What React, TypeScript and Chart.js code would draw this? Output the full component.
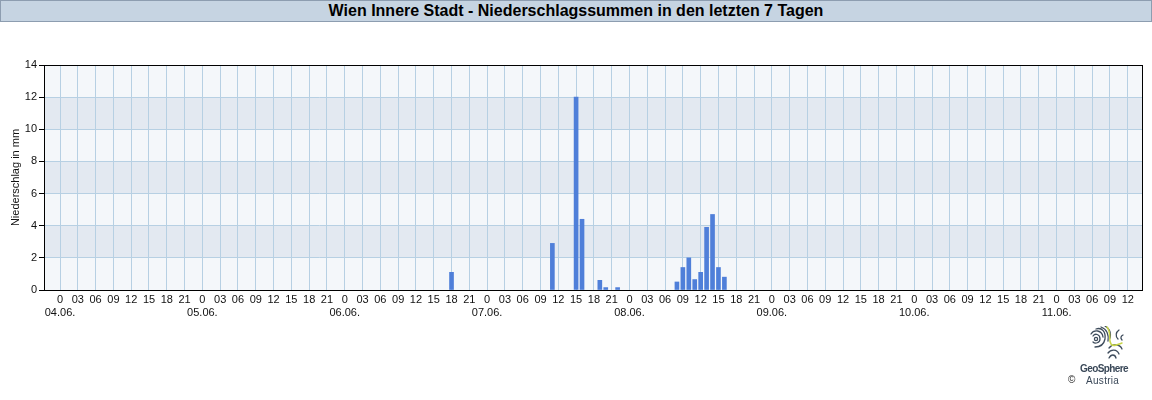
import React, { useEffect, useRef } from "react";
import { Chart, registerables } from "chart.js";

Chart.register(...registerables);

// Day labels (shown under each 0 h tick)
const DAYS = ["04.06.", "05.06.", "06.06.", "07.06.", "08.06.", "09.06.", "10.06.", "11.06."];
// Hour-of-day tick labels every 3 h
const HOUR_LABELS = ["0", "03", "06", "09", "12", "15", "18", "21"];
// Hours since 04.06. 00:00 with precipitation
const RAIN_HOURS = [66, 83, 87, 88, 91, 92, 94, 104, 105, 106, 107, 108, 109, 110, 111, 112];
// Hourly precipitation sums in mm
const RAIN_MM = [1.1, 2.9, 12.0, 4.4, 0.6, 0.15, 0.15, 0.5, 1.4, 2.0, 0.65, 1.1, 3.9, 4.7, 1.4, 0.8];
// Y axis ticks
const Y_TICKS = [0, 2, 4, 6, 8, 10, 12, 14];

const TITLE = "Wien Innere Stadt - Niederschlagssummen in den letzten 7 Tagen";
const Y_TITLE = "Niederschlag in mm";
const FONT = "'Liberation Sans', Arial, Helvetica, sans-serif";

const X_MIN = -2.7;
const X_MAX = 182.4;
const LAST_TICK = 180;

const bandsPlugin = {
  id: "bands",
  beforeDraw(chart: any) {
    const { ctx, chartArea: a, scales } = chart;
    const y = scales.y;
    ctx.save();
    for (let i = 0; i < Y_TICKS.length - 1; i++) {
      const top = y.getPixelForValue(Y_TICKS[i + 1]);
      const bot = y.getPixelForValue(Y_TICKS[i]);
      ctx.fillStyle = i % 2 === 0 ? "#f4f7fa" : "#e3e9f1";
      ctx.fillRect(a.left, top, a.right - a.left, bot - top);
    }
    ctx.restore();
  },
  afterDraw(chart: any) {
    const { ctx, chartArea: a } = chart;
    ctx.save();
    ctx.strokeStyle = "#000";
    ctx.lineWidth = 1;
    ctx.strokeRect(Math.round(a.left) + 0.5, Math.round(a.top) + 0.5, Math.round(a.right - a.left), Math.round(a.bottom - a.top));
    // y axis title
    ctx.translate(16, (a.top + a.bottom) / 2);
    ctx.rotate(-Math.PI / 2);
    ctx.fillStyle = "#111";
    ctx.font = "11px " + FONT;
    ctx.textAlign = "center";
    ctx.textBaseline = "middle";
    ctx.fillText(Y_TITLE, 0, 0);
    ctx.restore();
  },
};

function Logo() {
  return (
    <div style={{ position: "absolute", left: 1060, top: 322, width: 90, height: 70, fontFamily: FONT }}>
      <svg width="36" height="34" viewBox="0 0 36 34" style={{ position: "absolute", left: 29, top: 4 }}>
        <g fill="none" stroke="#3e4c5c" strokeWidth="1.3" strokeLinecap="round">
          <circle cx="7" cy="13" r="1.6" />
          <path d="M4 10 C6 7, 11 8, 11 13 C11 17, 6 18, 4 16" />
          <path d="M2 8 C5 3, 13 4, 14 11" />
          <path d="M7 3 C13 1, 17 6, 16 13 C15 18, 11 21, 6 21" />
          <path d="M12 1 C18 3, 20 9, 19 15" />
          <path d="M16 0 C21 3, 22 8, 21 12" />
          <path d="M30 4 C27 6, 26 10, 29 13" />
          <path d="M34 9 C32 10, 31 12, 33 14" />
          <path d="M20 22 C24 17, 31 18, 33 23" />
          <path d="M19 27 C22 23, 28 23, 30 28" />
          <path d="M20 32 C22 28, 26 28, 27 32" />
        </g>
        <path d="M18 1 C23 7, 19 14, 22 18 C24 21, 28 19, 33 17" fill="none" stroke="#c9d64a" strokeWidth="1.5" strokeLinecap="round" />
      </svg>
      <div style={{ position: "absolute", left: 20, top: 41, fontSize: 10, fontWeight: "bold", color: "#3a4858", whiteSpace: "nowrap", letterSpacing: -0.6 }}>GeoSphere</div>
      <div style={{ position: "absolute", left: 26, top: 53, fontSize: 10, color: "#3a4858", whiteSpace: "nowrap", letterSpacing: 0.3 }}>Austria</div>
      <div style={{ position: "absolute", left: 8, top: 52, fontSize: 10, color: "#222", whiteSpace: "nowrap" }}>©</div>
    </div>
  );
}

export default function App() {
  const ref = useRef<HTMLCanvasElement | null>(null);

  useEffect(() => {
    if (!ref.current) return;
    Chart.defaults.font.family = FONT;
    const data = RAIN_HOURS.map((h, i) => ({ x: h, y: RAIN_MM[i] }));
    const chart = new Chart(ref.current, {
      type: "bar",
      data: {
        datasets: [
          {
            data: data as any,
            backgroundColor: "#4f7fd9",
            borderWidth: 0,
            barThickness: 4,
          },
        ],
      },
      plugins: [bandsPlugin],
      options: {
        animation: false,
        responsive: false,
        maintainAspectRatio: false,
        layout: { padding: { top: 65, right: 10, left: 0, bottom: 0 } },
        plugins: { legend: { display: false }, tooltip: { enabled: false }, title: { display: false } },
        scales: {
          x: {
            type: "linear",
            min: X_MIN,
            max: X_MAX,
            offset: false,
            grid: { offset: false, color: "#b7d0e3", drawTicks: false, lineWidth: 1 },
            border: { display: false },
            afterBuildTicks(scale: any) {
              const ticks = [];
              for (let h = 0; h <= LAST_TICK; h += 3) ticks.push({ value: h });
              scale.ticks = ticks;
            },
            afterFit(scale: any) {
              scale.height = 110;
            },
            ticks: {
              autoSkip: false,
              maxRotation: 0,
              minRotation: 0,
              padding: 3,
              color: "#111",
              font: { size: 11, family: FONT },
              callback(value: any) {
                const v = Number(value);
                const hod = ((v % 24) + 24) % 24;
                const label = HOUR_LABELS[hod / 3];
                if (hod === 0) return [label, DAYS[Math.floor(v / 24)]];
                return label;
              },
            },
          },
          y: {
            min: 0,
            max: 14,
            afterBuildTicks(scale: any) {
              scale.ticks = Y_TICKS.map((v) => ({ value: v }));
            },
            afterFit(scale: any) {
              scale.width = 44;
            },
            grid: { color: "#b7d0e3", tickColor: "#000", tickLength: 5, drawTicks: true },
            border: { display: true, color: "#000" },
            ticks: { padding: 2, color: "#111", font: { size: 11, family: FONT } },
          },
        },
      } as any,
    });
    return () => chart.destroy();
  }, []);

  return (
    <div style={{ position: "absolute", left: 0, top: 0, width: 1152, height: 400, background: "#fff", overflow: "hidden" }}>
      <canvas ref={ref} width={1152} height={400} style={{ position: "absolute", left: 0, top: 0, width: 1152, height: 400 }} />
      <div
        style={{
          position: "absolute",
          left: 0,
          top: 0,
          width: 1152,
          height: 22,
          boxSizing: "border-box",
          border: "1px solid #8d9db0",
          background: "#c6d4e2",
          fontFamily: FONT,
          fontWeight: "bold",
          fontSize: 16,
          lineHeight: "20px",
          textAlign: "center",
          color: "#000",
        }}
      >
        {TITLE}
      </div>
      <Logo />
    </div>
  );
}
